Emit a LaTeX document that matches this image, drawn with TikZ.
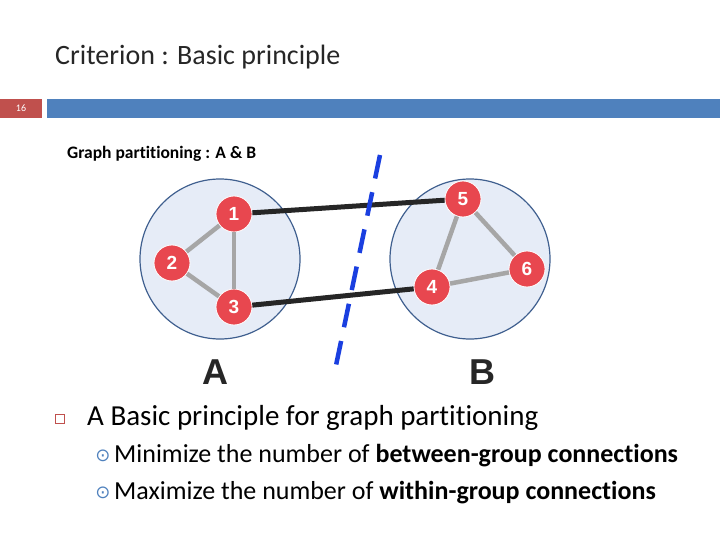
\documentclass[tikz,border=0pt]{standalone}
\usepackage{fontspec}
\setmainfont{Carlito}[Ligatures=NoCommon]
\newfontfamily\dejavu{DejaVu Sans}
\newfontfamily\arialf{Liberation Sans}
\definecolor{barred}{HTML}{C0504D}
\definecolor{barblue}{HTML}{4F81BD}
\definecolor{grpfill}{HTML}{E6ECF7}
\definecolor{grpedge}{HTML}{3F5F8F}
\definecolor{vred}{HTML}{E8474F}
\definecolor{cutblue}{HTML}{1A3FE0}
\begin{document}
\begin{tikzpicture}[x=1pt,y=-1pt,
  grp/.style={circle,draw=grpedge,fill=grpfill,line width=1.2pt,minimum size=160pt,inner sep=0},
  vtx/.style={circle,fill=vred,draw=white,line width=0.8pt,minimum size=36pt,inner sep=0,text=white,font=\arialf\bfseries\fontsize{19}{19}\selectfont},
  inedge/.style={line width=4.5pt,draw=gray!70},
  outedge/.style={line width=5pt,draw=black!85},
  txt/.style={anchor=west,inner sep=0}]
\useasboundingbox (0,0) rectangle (720,540);
\node[txt,font=\fontsize{28}{28}\selectfont,text=black!85] (title) at (55,57) {Criterion : Basic principle};
\fill[barred] (0,99) rectangle (42,118);
\node[text=white,font=\fontsize{10}{10}\selectfont] (num) at (21,108.5) {16};
\fill[barblue] (47,99) rectangle (720,118);
\node[txt,font=\bfseries\fontsize{17.5}{17.5}\selectfont] (sub) at (67,154) {Graph partitioning : A \& B};
\node[grp] (GA) at (220,259) {};
\node[grp] (GB) at (470,259) {};
\node[vtx] (n1) at (234,214) {1};
\node[vtx] (n2) at (172,263) {2};
\node[vtx] (n3) at (234,307) {3};
\node[vtx] (n5) at (463,199) {5};
\node[vtx] (n4) at (432,287) {4};
\node[vtx] (n6) at (527,269) {6};
\draw[inedge] (n1) -- (n2);
\draw[inedge] (n1) -- (n3);
\draw[inedge] (n2) -- (n3);
\draw[inedge] (n5) -- (n4);
\draw[inedge] (n5) -- (n6);
\draw[inedge] (n4) -- (n6);
\draw[outedge] (n1) -- (n5);
\draw[outedge] (n3) -- (n4);
\coordinate (c1) at (380,155);
\coordinate (c2) at (334,375);
\draw[cutblue,line width=4.5pt,dash pattern=on 24pt off 14pt] (c1) -- (c2);
\node[font=\arialf\bfseries\fontsize{36}{36}\selectfont,text=black!85] (la) at (215,372) {A};
\node[font=\arialf\bfseries\fontsize{36}{36}\selectfont,text=black!85] (lb) at (482,372) {B};
\draw[barred,line width=0.9pt] (55.5,414.5) rectangle (64.5,423.5);
\node[txt,font=\fontsize{29}{29}\selectfont] (b1) at (87,418) {A Basic principle for graph partitioning};
\node[text=barblue,font=\dejavu\fontsize{18}{18}\selectfont] (d1) at (103,456) {⊙};
\node[txt,font=\fontsize{26}{26}\selectfont] (b2) at (114,456) {Minimize the number of \textbf{between-group connections}};
\node[text=barblue,font=\dejavu\fontsize{18}{18}\selectfont] (d2) at (103,493) {⊙};
\node[txt,font=\fontsize{26}{26}\selectfont] (b3) at (114,493) {Maximize the number of \textbf{within-group connections}};
\end{tikzpicture}
\end{document}
